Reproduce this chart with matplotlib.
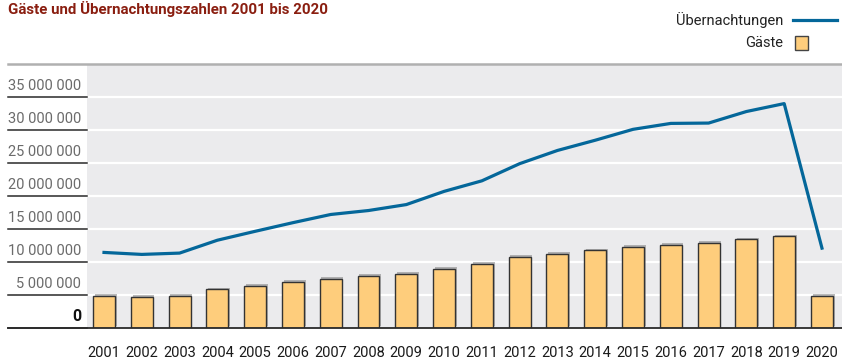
import matplotlib.pyplot as plt
from matplotlib import patheffects as pe
from matplotlib.lines import Line2D
from matplotlib.patches import Rectangle

years = [str(y) for y in range(2001, 2021)]
gaeste = [4.9, 4.7, 4.9, 5.87, 6.4, 6.97, 7.47, 7.88, 8.18, 8.93,
          9.74, 10.8, 11.2, 11.75, 12.3, 12.65, 12.9, 13.45, 13.9, 4.87]
naechte = [11.45, 11.15, 11.35, 13.3, 14.65, 15.96, 17.2, 17.8, 18.7, 20.7,
           22.3, 24.9, 26.9, 28.45, 30.1, 31.0, 31.05, 32.8, 34.0, 12.1]
gaeste = [v * 1e6 for v in gaeste]
naechte = [v * 1e6 for v in naechte]
ticks = list(range(0, 40_000_001, 5_000_000))

plt.rcParams['font.family'] = ['Roboto', 'DejaVu Sans']

W, H = 842, 363
fig = plt.figure(figsize=(W / 100, H / 100), dpi=100)
ax = fig.add_axes([87 / W, 1 - 328 / H, 755 / W, 264 / H])
ax.set_facecolor('#ebebed')

x = list(range(len(years)))
ax.bar(x, gaeste, width=0.58, color='#fecd7c', edgecolor='#333333', lw=1.0,
       zorder=3,
       path_effects=[pe.SimplePatchShadow(offset=(1.2, 1.2), shadow_rgbFace='#777777', alpha=0.5),
                     pe.Normal()])
ax.plot(x, naechte, color='#04679a', lw=2.3, zorder=4, solid_joinstyle='round')

ax.set_xlim(-0.45, 19.53)
ax.set_ylim(0, 40_000_000)
for t in ticks[1:-1]:
    ax.axhline(t, color='white', lw=1.6, zorder=1)
for s in ax.spines.values():
    s.set_visible(False)
ax.set_yticks([])
ax.set_xticks(x)
ax.set_xticklabels(years, fontsize=10.5, color='#1a1a1a')
ax.tick_params(axis='x', length=0, pad=13)

# row lines and labels left of the plot
yt = ax.get_yaxis_transform()
for t in ticks[:-1]:
    ax.plot([-79 / 755, 0], [t, t], transform=yt, color='#2a2a2a', lw=1.1, clip_on=False)
    lab = '0' if t == 0 else f'{t:,}'.replace(',', ' ')
    ax.annotate(lab, xy=(-6 / 755, t), xycoords=yt, xytext=(0, 3), textcoords='offset points',
                ha='right', va='bottom', fontsize=10.5 if t else 11.5,
                color='#111111' if t == 0 else '#6b6b6b',
                fontweight='bold' if t == 0 else 'normal', annotation_clip=False)
ax.plot([-79 / 755, 1], [0, 0], transform=yt, color='#2a2a2a', lw=1.3, clip_on=False, zorder=5)
ax.plot([-79 / 755, 1], [40_000_000, 40_000_000], transform=yt, color='#b0b0b0', lw=1.8,
        clip_on=False, zorder=5)

fig.text(8 / W, 1 - 9 / H, 'Gäste und Übernachtungszahlen 2001 bis 2020', ha='left', va='center',
         fontsize=10.8, fontweight='bold', color='#8a1e10')

# legend
fig.text(783 / W, 1 - 20 / H, 'Übernachtungen', ha='right', va='center', fontsize=10.5, color='#222222')
fig.text(783 / W, 1 - 43 / H, 'Gäste', ha='right', va='center', fontsize=10.5, color='#222222')
fig.add_artist(Line2D([793 / W, 837 / W], [1 - 20 / H, 1 - 20 / H], color='#04679a', lw=2.3,
                      transform=fig.transFigure))
fig.add_artist(Rectangle((795 / W, 1 - 50 / H), 13 / W, 14 / H, facecolor='#fecd7c',
                         edgecolor='#444444', lw=1.0, transform=fig.transFigure))

fig.savefig('out.png', dpi=100)
